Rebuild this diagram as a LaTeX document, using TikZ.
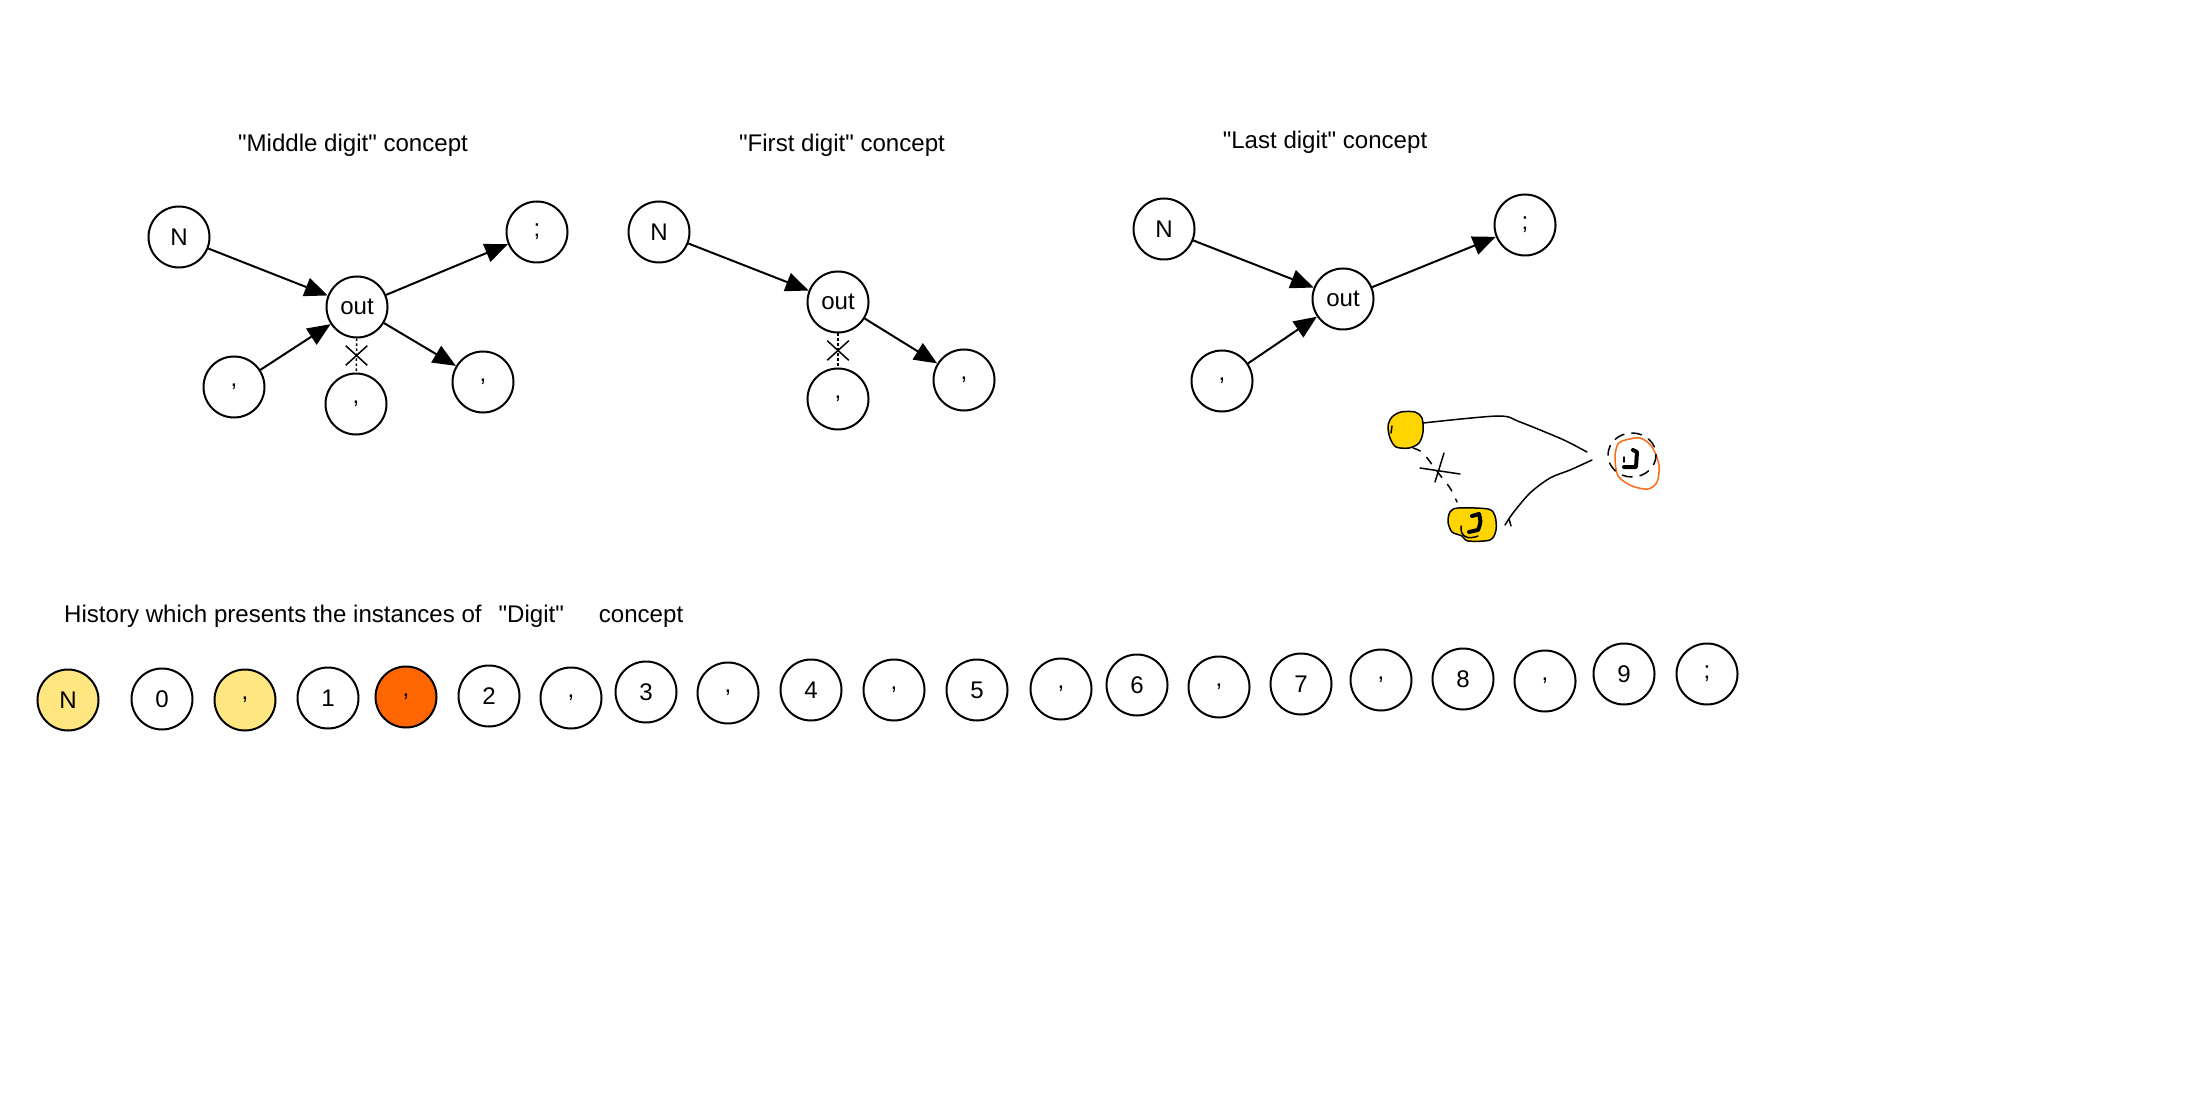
\documentclass[tikz,border=0pt]{standalone}
\usepackage{fontspec}
\setmainfont{Liberation Sans}[Ligatures=TeXOff]
\usepackage{tikz}
\usetikzlibrary{
  positioning, arrows.meta, shapes.misc,
}
\definecolor{cHistYellow}  {HTML}{FFE680}
\definecolor{cHistOrange}  {HTML}{FF6600}
\definecolor{cSketchGold}  {HTML}{FFD500}
\definecolor{cSketchOrange}{HTML}{FF6A13}

\tikzset{
  digitnode/.style={circle, draw, line width=0.4mm, minimum size=12.2mm,
    inner sep=0pt, font=\fontsize{13.7}{16}\selectfont},
  titletext/.style={font=\fontsize{13.7}{16}\selectfont},
  flow/.style={line width=0.4mm, -{Triangle[length=4.6mm, width=3.8mm]}},
  blocked/.style={line width=0.3mm, dash pattern=on 0.5mm off 0.5mm},
  crossmark/.style={cross out, draw, solid, line width=0.3mm,
    minimum width=4mm, minimum height=3.6mm, inner sep=0pt},
}

\begin{document}
\begin{tikzpicture}[x=0.2mm, y=-0.2mm]
  \useasboundingbox (0, 0) rectangle (2210, 1109);

  % "Middle digit" concept
  \node[titletext] (midTitle) at (353, 145) {"Middle digit" concept};
  \node[digitnode] (midN)    at (179, 237) {N};
  \node[digitnode] (midOut)  at (357, 307) {out};
  \node[digitnode] (midSemi) at (537, 232) {;};
  \node[digitnode] (midPrev) at (234, 387) {,};
  \node[digitnode] (midSkip) at (356, 404) {,};
  \node[digitnode] (midNext) at (483, 382) {,};
  \draw[flow] (midN) -- (midOut);
  \draw[flow] (midPrev) -- (midOut);
  \draw[flow] (midOut) -- (midSemi);
  \draw[flow] (midOut) -- (midNext);
  \draw[blocked] (midOut) -- node[crossmark] {} (midSkip);

  % "First digit" concept
  \node[titletext] (firstTitle) at (842, 145) {"First digit" concept};
  \node[digitnode] (firstN)    at (659, 232) {N};
  \node[digitnode] (firstOut)  at (838, 302) {out};
  \node[digitnode] (firstSkip) at (838, 399) {,};
  \node[digitnode] (firstNext) at (964, 380) {,};
  \draw[flow] (firstN) -- (firstOut);
  \draw[flow] (firstOut) -- (firstNext);
  \draw[blocked] (firstOut) -- node[crossmark] {} (firstSkip);

  % "Last digit" concept
  \node[titletext] (lastTitle) at (1325, 142) {"Last digit" concept};
  \node[digitnode] (lastN)    at (1164, 229) {N};
  \node[digitnode] (lastOut)  at (1343, 299) {out};
  \node[digitnode] (lastSemi) at (1525, 225) {;};
  \node[digitnode] (lastPrev) at (1222, 381) {,};
  \draw[flow] (lastN) -- (lastOut);
  \draw[flow] (lastPrev) -- (lastOut);
  \draw[flow] (lastOut) -- (lastSemi);

  % hand sketch next to the last concept
  \begin{scope}[line width=0.3mm, line cap=round, line join=round]
    \filldraw[fill=cSketchGold] plot[smooth cycle] coordinates
      {(1392,417) (1401,412) (1415,412) (1422,418) (1423,432) (1419,443) (1409,448) (1396,447) (1390,438) (1388,426)};
    \draw (1392,426) -- (1391,433);
    \filldraw[fill=cSketchGold] plot[smooth cycle] coordinates
      {(1450,512) (1458,508) (1488,509) (1495,516) (1496,530) (1490,540) (1468,541) (1462,536) (1452,532) (1448,522)};
    \draw (1461,526) .. controls (1460,537) and (1468,540) .. (1478,536);
    \draw[line width=0.8mm] (1472,516) -- (1479,514) .. controls (1481,522) .. (1478,530) -- (1469,532);
    \draw[cSketchOrange] plot[smooth cycle] coordinates
      {(1622,441) (1640,438) (1652,447) (1659,465) (1657,482) (1648,489) (1632,486) (1618,476) (1615,458) (1617,446)};
    \draw[dash pattern=on 2mm off 1.6mm] (1632,455) ellipse [x radius=24, y radius=22];
    \draw[line width=0.8mm] (1633,450) -- (1637,452) -- (1636,467) -- (1624,467);
    \draw (1624,457) -- (1624,462);
    % joining strokes
    \draw plot[smooth] coordinates {(1423,423) (1498,416) (1520,422) (1557,437) (1570,443) (1587,452)};
    \draw plot[smooth] coordinates {(1505,525) (1513,513) (1530,493) (1550,478) (1570,470) (1592,460)};
    \draw (1509,519) -- (1511,526);
    % broken link with a cross
    \draw[dash pattern=on 1.6mm off 1.8mm] plot[smooth] coordinates {(1413,448) (1423,453) (1436,470) (1450,488) (1457,502)};
    \draw (1420,468) -- (1460,474);
    \draw (1444,453) -- (1435,482);
  \end{scope}

  % history of the digit instances
  \node[titletext, anchor=west] (histTitle) at (58, 616)
    {History which presents the instances of\hspace{3.4mm}"Digit"\hspace{7mm}concept};
  \foreach \lab/\x/\y/\col [count=\i] in {N/68/700/cHistYellow, 0/162/699/white,
      {,}/245/700/cHistYellow, 1/328/698/white, {,}/406/697/cHistOrange, 2/489/696/white,
      {,}/571/698/white, 3/646/692/white, {,}/728/693/white, 4/811/690/white,
      {,}/894/690/white, 5/977/690/white, {,}/1061/689/white, 6/1137/685/white,
      {,}/1219/687/white, 7/1301/684/white, {,}/1381/680/white, 8/1463/679/white,
      {,}/1545/681/white, 9/1624/674/white, ;/1707/674/white}{
    \node[digitnode, fill=\col] (hist\i) at (\x, \y) {\lab};
  }
\end{tikzpicture}
\end{document}
